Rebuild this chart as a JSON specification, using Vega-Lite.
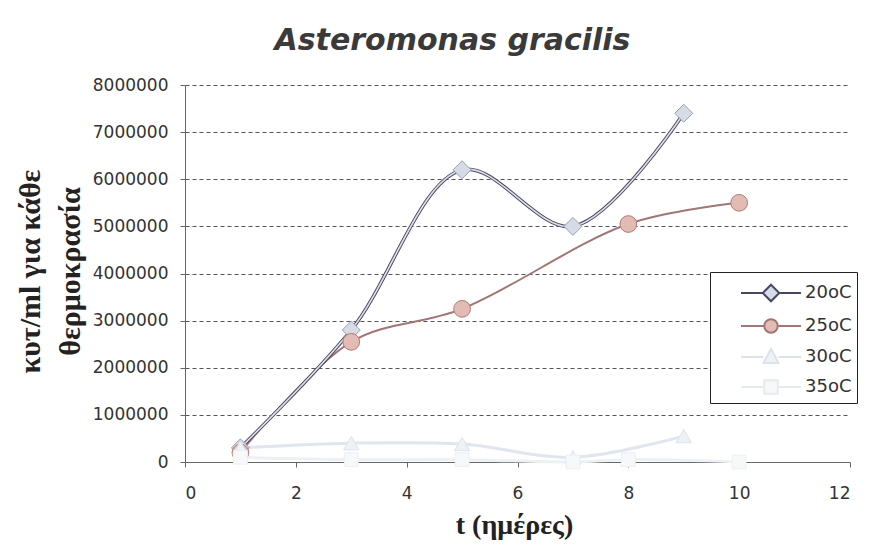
{
  "$schema": "https://vega.github.io/schema/vega-lite/v6.json",
  "width": 665,
  "height": 377,
  "autosize": {"type": "none"},
  "padding": {"left": 185, "top": 85, "right": 22, "bottom": 84},
  "background": "white",
  "title": {
    "text": "Asteromonas gracilis",
    "font": "DejaVu Sans",
    "fontSize": 30,
    "fontWeight": "bold",
    "fontStyle": "italic",
    "color": "#3a3a3a",
    "anchor": "middle",
    "frame": "group",
    "dx": -65,
    "offset": 20
  },
  "config": {
    "view": {"stroke": null},
    "axis": {
      "labelFont": "DejaVu Sans",
      "labelFontSize": 17,
      "labelColor": "#333333",
      "domainColor": "#666666",
      "tickColor": "#666666",
      "tickSize": 5,
      "titleFont": "Liberation Serif",
      "titleFontWeight": "bold",
      "titleColor": "#222222"
    }
  },
  "data": {
    "values": [
      {"series": "20oC", "t": 1, "count": 300000},
      {"series": "20oC", "t": 3, "count": 2800000},
      {"series": "20oC", "t": 5, "count": 6200000},
      {"series": "20oC", "t": 7, "count": 5000000},
      {"series": "20oC", "t": 9, "count": 7400000},
      {"series": "25oC", "t": 1, "count": 200000},
      {"series": "25oC", "t": 3, "count": 2550000},
      {"series": "25oC", "t": 5, "count": 3250000},
      {"series": "25oC", "t": 8, "count": 5050000},
      {"series": "25oC", "t": 10, "count": 5500000},
      {"series": "30oC", "t": 1, "count": 300000},
      {"series": "30oC", "t": 3, "count": 400000},
      {"series": "30oC", "t": 5, "count": 380000},
      {"series": "30oC", "t": 7, "count": 100000},
      {"series": "30oC", "t": 9, "count": 550000},
      {"series": "35oC", "t": 1, "count": 100000},
      {"series": "35oC", "t": 3, "count": 50000},
      {"series": "35oC", "t": 5, "count": 50000},
      {"series": "35oC", "t": 7, "count": 0},
      {"series": "35oC", "t": 8, "count": 50000},
      {"series": "35oC", "t": 10, "count": 0}
    ]
  },
  "encoding": {
    "x": {
      "field": "t",
      "type": "quantitative",
      "scale": {"domain": [0, 12], "nice": false},
      "axis": {
        "values": [0, 2, 4, 6, 8, 10, 12],
        "grid": false,
        "labelPadding": 18,
        "title": "t (ημέρες)",
        "titleFontSize": 28,
        "titleX": 329,
        "titleY": 63,
        "titleBaseline": "middle",
        "titleAlign": "center"
      }
    },
    "y": {
      "field": "count",
      "type": "quantitative",
      "scale": {"domain": [0, 8000000], "nice": false},
      "axis": {
        "values": [0, 1000000, 2000000, 3000000, 4000000, 5000000, 6000000, 7000000, 8000000],
        "format": "d",
        "grid": true,
        "gridColor": "#555555",
        "gridDash": [4, 3],
        "gridWidth": 1,
        "labelPadding": 12,
        "title": ["κυτ/ml για κάθε", "θερμοκρασία"],
        "titleFontSize": 30,
        "titleAngle": -90,
        "titleAlign": "center",
        "titleBaseline": "middle",
        "titleLineHeight": 40,
        "titleX": -155,
        "titleY": 186
      }
    }
  },
  "layer": [
    {
      "transform": [{"filter": "datum.series === '35oC'"}],
      "mark": {"type": "line", "interpolate": "catmull-rom", "color": "#edf1f5", "strokeWidth": 3}
    },
    {
      "transform": [{"filter": "datum.series === '30oC'"}],
      "mark": {"type": "line", "interpolate": "catmull-rom", "color": "#dfe6ee", "strokeWidth": 3}
    },
    {
      "transform": [{"filter": "datum.series === '25oC'"}],
      "mark": {"type": "line", "interpolate": "catmull-rom", "color": "#a07676", "strokeWidth": 2}
    },
    {
      "transform": [{"filter": "datum.series === '20oC'"}],
      "mark": {"type": "line", "interpolate": "catmull-rom", "color": "#4a4763", "strokeWidth": 3.5}
    },
    {
      "transform": [{"filter": "datum.series === '20oC'"}],
      "mark": {"type": "line", "interpolate": "catmull-rom", "color": "#dde2ea", "strokeWidth": 1.6}
    },
    {
      "mark": {"type": "point", "filled": true, "opacity": 1, "strokeWidth": 1},
      "encoding": {
        "shape": {
          "field": "series",
          "type": "nominal",
          "scale": {"domain": ["20oC", "25oC", "30oC", "35oC"], "range": ["diamond", "circle", "triangle-up", "square"]},
          "legend": null
        },
        "fill": {
          "field": "series",
          "type": "nominal",
          "scale": {"domain": ["20oC", "25oC", "30oC", "35oC"], "range": ["#d6dce6", "#e2bcb4", "#eef2f6", "#f6f8fa"]},
          "legend": null
        },
        "stroke": {
          "field": "series",
          "type": "nominal",
          "scale": {"domain": ["20oC", "25oC", "30oC", "35oC"], "range": ["#9aa0b0", "#b07a72", "#dde3ea", "#eceff3"]},
          "legend": null
        },
        "size": {
          "field": "series",
          "type": "nominal",
          "scale": {"domain": ["20oC", "25oC", "30oC", "35oC"], "range": [324, 190, 256, 196]},
          "legend": null
        }
      }
    },
    {
      "mark": {"type": "point", "filled": true, "opacity": 0},
      "encoding": {
        "shape": {
          "field": "series",
          "type": "nominal",
          "scale": {
            "domain": ["20oC", "25oC", "30oC", "35oC"],
            "range": [
              "M-2,0H-0.55M0.55,0H2M0,-0.55L0.55,0L0,0.55L-0.55,0Z",
              "M-2,0H-0.48M0.48,0H2M0.45,0A0.45,0.45 0 1 1 -0.45,0A0.45,0.45 0 1 1 0.45,0Z",
              "M-2,0H-0.5M0.5,0H2M0,-0.55L0.5,0.4L-0.5,0.4Z",
              "M-2,0H-0.45M0.45,0H2M-0.45,-0.45H0.45V0.45H-0.45Z"
            ]
          },
          "legend": {
            "title": null,
            "orient": "none",
            "legendX": 525,
            "legendY": 187,
            "padding": 5,
            "strokeColor": "#222222",
            "fillColor": "white",
            "symbolSize": 900,
            "symbolOpacity": 1,
            "symbolStrokeWidth": 2,
            "symbolOffset": 40,
            "labelOffset": 18,
            "rowPadding": 4,
            "labelFont": "DejaVu Sans",
            "labelFontSize": 18,
            "labelColor": "#333333"
          }
        },
        "fill": {
          "field": "series",
          "type": "nominal",
          "scale": {"domain": ["20oC", "25oC", "30oC", "35oC"], "range": ["#d6dce6", "#e2bcb4", "#eef2f6", "#f6f8fa"]}
        },
        "stroke": {
          "field": "series",
          "type": "nominal",
          "scale": {"domain": ["20oC", "25oC", "30oC", "35oC"], "range": ["#4a4763", "#a07676", "#dde3ea", "#e6ebf0"]}
        }
      }
    }
  ],
  "resolve": {
    "scale": {"shape": "independent", "fill": "independent", "stroke": "independent", "size": "independent"}
  }
}
